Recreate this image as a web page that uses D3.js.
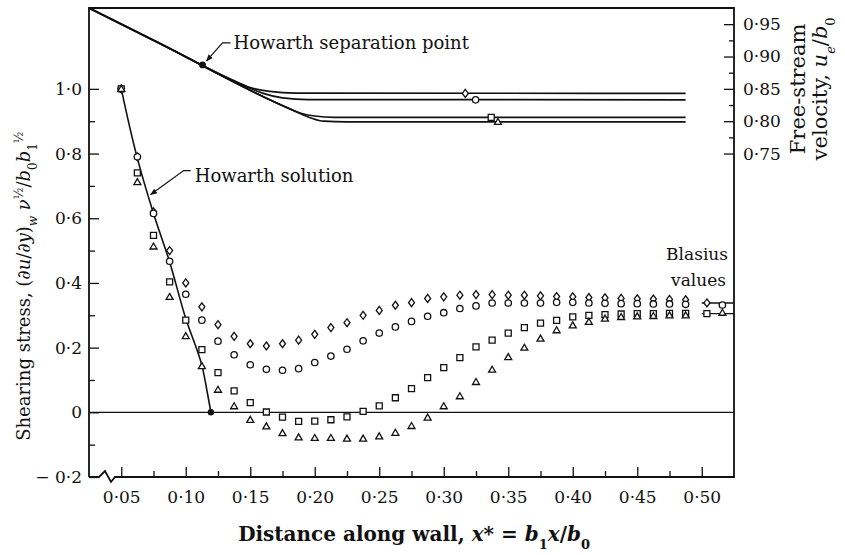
<!DOCTYPE html>
<html>
<head>
<meta charset="utf-8">
<script src="https://cdn.jsdelivr.net/npm/d3@7"></script>
<style>
body { margin: 0; background: #fff; }
svg text { font-family: "DejaVu Serif", serif; fill: #111; }
.tick line { stroke: #111; stroke-width: 1.3; }
.tick text { font-size: 17px; }
</style>
</head>
<body>
<div class="chart"></div>
<script>

// x* stations of the measured points
var stations = [0.05, 0.0625, 0.075, 0.0875, 0.1, 0.1125, 0.125, 0.1375, 0.15, 0.1625,
  0.175, 0.1875, 0.2, 0.2125, 0.225, 0.2375, 0.25, 0.2625, 0.275, 0.2875,
  0.3, 0.3125, 0.325, 0.3375, 0.35, 0.3625, 0.375, 0.3875, 0.4, 0.4125,
  0.425, 0.4375, 0.45, 0.4625, 0.475, 0.4875];

// shearing stress for the four cases
var diamondShear = [1.0, 0.79, 0.62, 0.50, 0.40, 0.326, 0.271, 0.235, 0.212, 0.205,
  0.212, 0.223, 0.241, 0.262, 0.277, 0.300, 0.315, 0.331, 0.339, 0.352,
  0.357, 0.362, 0.364, 0.364, 0.362, 0.362, 0.360, 0.358, 0.357, 0.355,
  0.354, 0.352, 0.351, 0.350, 0.349, 0.348];
var circleShear = [1.0, 0.79, 0.615, 0.467, 0.365, 0.285, 0.22, 0.178, 0.147, 0.133,
  0.13, 0.135, 0.154, 0.174, 0.195, 0.221, 0.245, 0.264, 0.281, 0.297,
  0.308, 0.321, 0.329, 0.338, 0.338, 0.338, 0.338, 0.340, 0.340, 0.338,
  0.337, 0.336, 0.336, 0.335, 0.335, 0.334];
var squareShear = [1.0, 0.74, 0.547, 0.403, 0.285, 0.194, 0.123, 0.066, 0.03, 0.001,
  -0.015, -0.028, -0.027, -0.023, -0.014, 0.003, 0.02, 0.045, 0.073, 0.107,
  0.138, 0.169, 0.202, 0.223, 0.245, 0.262, 0.276, 0.284, 0.295, 0.300,
  0.302, 0.304, 0.305, 0.305, 0.306, 0.306];
var triangleShear = [1.0, 0.712, 0.513, 0.357, 0.236, 0.143, 0.07, 0.019, -0.023, -0.043,
  -0.064, -0.077, -0.079, -0.079, -0.081, -0.081, -0.074, -0.063, -0.042, -0.016,
  0.019, 0.05, 0.094, 0.132, 0.171, 0.2, 0.228, 0.254, 0.269, 0.28,
  0.29, 0.295, 0.297, 0.298, 0.30, 0.30];

// Howarth solution
var howarthX = [0.05, 0.0625, 0.075, 0.0875, 0.1, 0.1125, 0.117, 0.1195];
var howarthShear = [1.0, 0.785, 0.615, 0.465, 0.29, 0.145, 0.055, 0.0];

// free-stream velocity u_e/b0 (right axis)
var diamondVelocity = [[0.025, 0.975], [0.08, 0.92], [0.135, 0.865], [0.15, 0.852], [0.165, 0.846], [0.185, 0.8435], [0.4875, 0.843]];
var circleVelocity = [[0.025, 0.975], [0.08, 0.92], [0.145, 0.855], [0.16, 0.843], [0.175, 0.836], [0.195, 0.8335], [0.4875, 0.833]];
var squareVelocity = [[0.025, 0.975], [0.08, 0.92], [0.18, 0.82], [0.19, 0.812], [0.2, 0.808], [0.215, 0.806], [0.4875, 0.806]];
var triangleVelocity = [[0.025, 0.975], [0.08, 0.92], [0.185, 0.815], [0.197, 0.805], [0.207, 0.80], [0.225, 0.799], [0.4875, 0.799]];
var velocityMarkX = [0.3167, 0.3247, 0.3368, 0.342];
var separationPoint = [0.113, 0.887];

// Blasius values
var blasiusX = [0.5, 0.525];
var blasiusUpper = 0.338;
var blasiusLower = 0.305;
var blasiusMarkX = [0.504, 0.516];

// ticks
var xTicks = [0.05, 0.10, 0.15, 0.20, 0.25, 0.30, 0.35, 0.40, 0.45, 0.50];
var xMinorTicks = [0.075, 0.125, 0.175, 0.225, 0.275, 0.325, 0.375, 0.425, 0.475];
var yTicks = [-0.2, 0, 0.2, 0.4, 0.6, 0.8, 1.0];
var yMinorTicks = [-0.1, 0.1, 0.3, 0.5, 0.7, 0.9];
var uTicks = [0.75, 0.80, 0.85, 0.90, 0.95];
var uMinorTicks = [0.775, 0.825, 0.875, 0.925];

function chart(){
var width = 845;
var height = 555;
var margin = {top: 8, right: 111, bottom: 78, left: 89};
var w = width - margin.left - margin.right;
var h = height - margin.top - margin.bottom;

var svg = d3.select(".chart").append("svg")
    .attr("width", width)
    .attr("height", height);

svg.append("defs").append("marker")
    .attr("id", "arrow")
    .attr("viewBox", "0 0 10 10")
    .attr("refX", 9).attr("refY", 5)
    .attr("markerWidth", 7).attr("markerHeight", 7)
    .attr("markerUnits", "userSpaceOnUse")
    .attr("orient", "auto")
  .append("path")
    .attr("d", "M0,1L10,5L0,9Z")
    .attr("fill", "#111");

var g = svg.append("g")
    .attr("transform", "translate(" + margin.left + "," + margin.top + ")");

var x = d3.scaleLinear().domain([0.025, 0.525]).range([0, w]);
var y = d3.scaleLinear().domain([-0.2, 1.25]).range([h, 0]);
var yR = d3.scaleLinear().domain([0.25, 0.975]).range([h, 0]);

var fmtY = function(d) {
  if (d === 0) return "0";
  return d3.format(".1f")(d).replace(".", "·").replace("−", "− ");
};
var fmtX = function(d) { return d3.format(".2f")(d).replace(".", "·"); };
var fmtU = function(d) { return d3.format(".2f")(d).replace(".", "·"); };

// axes (ticks point inward)
g.append("g")
    .call(d3.axisLeft(y).tickValues(yTicks).tickSize(-10).tickPadding(7).tickFormat(fmtY))
    .call(function(a) { a.select(".domain").remove(); });
g.append("g")
    .call(d3.axisLeft(y).tickValues(yMinorTicks).tickSize(-6).tickFormat(""))
    .call(function(a) { a.select(".domain").remove(); });

g.append("g")
    .attr("transform", "translate(0," + h + ")")
    .call(d3.axisBottom(x).tickValues(xTicks).tickSize(-10).tickPadding(14).tickFormat(fmtX))
    .call(function(a) { a.select(".domain").remove(); });
g.append("g")
    .attr("transform", "translate(0," + h + ")")
    .call(d3.axisBottom(x).tickValues(xMinorTicks).tickSize(-6).tickFormat(""))
    .call(function(a) { a.select(".domain").remove(); });

g.append("g")
    .attr("transform", "translate(" + w + ",0)")
    .call(d3.axisRight(yR).tickValues(uTicks).tickSize(-10).tickPadding(9).tickFormat(fmtU))
    .call(function(a) { a.select(".domain").remove(); });
g.append("g")
    .attr("transform", "translate(" + w + ",0)")
    .call(d3.axisRight(yR).tickValues(uMinorTicks).tickSize(-5).tickFormat(""))
    .call(function(a) { a.select(".domain").remove(); });

g.selectAll(".tick text").attr("fill", "#111");

// frame with broken axis mark at lower left
g.append("path")
    .attr("d", "M0," + h + "V0H" + w + "V" + h + "H26L22," + (h + 5) + "L16," + (h - 6) + "L10," + h + "H0")
    .attr("fill", "none")
    .attr("stroke", "#111")
    .attr("stroke-width", 1.8);

// zero line
g.append("line")
    .attr("x1", 0).attr("x2", w)
    .attr("y1", y(0)).attr("y2", y(0))
    .attr("stroke", "#111").attr("stroke-width", 1.3);

// free-stream velocity curves
var vline = d3.line()
    .x(function(d) { return x(d[0]); })
    .y(function(d) { return yR(d[1]); })
    .curve(d3.curveMonotoneX);

var velocities = [diamondVelocity, circleVelocity, squareVelocity, triangleVelocity];
g.selectAll(".vel")
    .data(velocities)
  .enter().append("path")
    .attr("class", "vel")
    .attr("d", vline)
    .attr("fill", "none")
    .attr("stroke", "#111")
    .attr("stroke-width", 1.7);

// Howarth solution
var howarth = howarthX.map(function(d, i) { return [d, howarthShear[i]]; });
g.append("path")
    .datum(howarth)
    .attr("d", d3.line()
        .x(function(d) { return x(d[0]); })
        .y(function(d) { return y(d[1]); })
        .curve(d3.curveMonotoneY))
    .attr("fill", "none")
    .attr("stroke", "#111")
    .attr("stroke-width", 1.6);

g.append("circle")
    .attr("cx", x(howarthX[howarthX.length - 1]))
    .attr("cy", y(0))
    .attr("r", 3.2)
    .attr("fill", "#111");

g.append("circle")
    .attr("cx", x(separationPoint[0]))
    .attr("cy", yR(separationPoint[1]))
    .attr("r", 3.4)
    .attr("fill", "#111");

// Blasius values
[blasiusUpper, blasiusLower].forEach(function(v) {
  g.append("line")
      .attr("x1", x(blasiusX[0])).attr("x2", x(blasiusX[1]))
      .attr("y1", y(v)).attr("y2", y(v))
      .attr("stroke", "#111").attr("stroke-width", 1.3);
});

// marker shapes
var shapes = {
  diamond: "M0,-4L3,0L0,4L-3,0Z",
  circle: d3.symbol(d3.symbolCircle, Math.PI * 3.2 * 3.2)(),
  square: "M-3,-3H3V3H-3Z",
  triangle: "M0,-3.4L3.5,2.6L-3.5,2.6Z"
};

var series = [
  {shape: "diamond", values: diamondShear},
  {shape: "circle", values: circleShear},
  {shape: "square", values: squareShear},
  {shape: "triangle", values: triangleShear}
];

function mark(px, py, shape) {
  g.append("path")
      .attr("d", shapes[shape])
      .attr("transform", "translate(" + px + "," + py + ")")
      .attr("fill", "#fff")
      .attr("stroke", "#111")
      .attr("stroke-width", 1.3);
}

series.forEach(function(s) {
  g.selectAll(".m-" + s.shape)
      .data(stations)
    .enter().append("path")
      .attr("class", "m-" + s.shape)
      .attr("d", shapes[s.shape])
      .attr("transform", function(d, i) { return "translate(" + x(d) + "," + y(s.values[i]) + ")"; })
      .attr("fill", "#fff")
      .attr("stroke", "#111")
      .attr("stroke-width", 1.3);
});

// markers on velocity curves
series.forEach(function(s, i) {
  var curve = velocities[i];
  mark(x(velocityMarkX[i]), yR(curve[curve.length - 1][1]), s.shape);
});

// markers on Blasius lines
mark(x(blasiusMarkX[0]), y(blasiusUpper), "diamond");
mark(x(blasiusMarkX[1]), y(blasiusUpper) + 2, "circle");
mark(x(blasiusMarkX[0]), y(blasiusLower), "square");
mark(x(blasiusMarkX[1]), y(blasiusLower) - 1, "triangle");

// annotations
var sx = x(separationPoint[0]), sy = yR(separationPoint[1]);
g.append("path")
    .attr("d", "M" + (sx + 28) + "," + (sy - 22) + "H" + (sx + 20) + "L" + (sx + 4) + "," + (sy - 4))
    .attr("fill", "none").attr("stroke", "#111").attr("stroke-width", 1.2)
    .attr("marker-end", "url(#arrow)");
g.append("text")
    .attr("x", sx + 31).attr("y", sy - 16)
    .style("font-size", "18px")
    .text("Howarth separation point");

var hx = x(0.0705), hy = y(0.67);
g.append("path")
    .attr("d", "M" + (hx + 43) + "," + (hy - 25) + "H" + (hx + 36) + "L" + (hx + 3) + "," + (hy - 1))
    .attr("fill", "none").attr("stroke", "#111").attr("stroke-width", 1.2)
    .attr("marker-end", "url(#arrow)");
g.append("text")
    .attr("x", hx + 47).attr("y", hy - 14)
    .style("font-size", "18px")
    .text("Howarth solution");

g.append("text")
    .attr("x", w - 6).attr("y", y(0.47))
    .attr("text-anchor", "end")
    .style("font-size", "17px")
    .text("Blasius");
g.append("text")
    .attr("x", w - 8).attr("y", y(0.39))
    .attr("text-anchor", "end")
    .style("font-size", "17px")
    .text("values");

// axis titles
var xt = svg.append("text")
    .attr("x", margin.left + x(0.277))
    .attr("y", 541)
    .attr("text-anchor", "middle")
    .style("font-size", "20px")
    .style("font-weight", "bold");
xt.append("tspan").text("Distance along wall, ");
xt.append("tspan").style("font-style", "italic").text("x");
xt.append("tspan").text("* = ");
xt.append("tspan").style("font-style", "italic").text("b");
xt.append("tspan").attr("baseline-shift", "sub").style("font-size", "13px").text("1");
xt.append("tspan").style("font-style", "italic").text("x");
xt.append("tspan").text("/");
xt.append("tspan").style("font-style", "italic").text("b");
xt.append("tspan").attr("baseline-shift", "sub").style("font-size", "13px").text("0");

var yt = svg.append("text")
    .attr("transform", "translate(30," + (margin.top + y(0.39)) + ") rotate(-90)")
    .attr("text-anchor", "middle")
    .style("font-size", "18px");
yt.append("tspan").text("Shearing stress, (∂");
yt.append("tspan").style("font-style", "italic").text("u");
yt.append("tspan").text("/∂");
yt.append("tspan").style("font-style", "italic").text("y");
yt.append("tspan").text(")");
yt.append("tspan").attr("baseline-shift", "sub").style("font-size", "12px").style("font-style", "italic").text("w");
yt.append("tspan").style("font-style", "italic").text(" ν");
yt.append("tspan").attr("baseline-shift", "super").style("font-size", "12px").text("½");
yt.append("tspan").text("/");
yt.append("tspan").style("font-style", "italic").text("b");
yt.append("tspan").attr("baseline-shift", "sub").style("font-size", "12px").text("0");
yt.append("tspan").style("font-style", "italic").text("b");
yt.append("tspan").attr("baseline-shift", "sub").style("font-size", "12px").text("1");
yt.append("tspan").attr("baseline-shift", "super").style("font-size", "12px").text("½");

var rt = svg.append("g")
    .attr("transform", "translate(0," + (margin.top + yR(0.85)) + ") rotate(-90)");
rt.append("text")
    .attr("x", 0).attr("y", 805)
    .attr("text-anchor", "middle")
    .style("font-size", "21px")
    .text("Free-stream");
var rt2 = rt.append("text")
    .attr("x", 0).attr("y", 827)
    .attr("text-anchor", "middle")
    .style("font-size", "21px");
rt2.append("tspan").text("velocity, ");
rt2.append("tspan").style("font-style", "italic").text("u");
rt2.append("tspan").attr("baseline-shift", "sub").style("font-size", "13px").style("font-style", "italic").text("e");
rt2.append("tspan").text("/");
rt2.append("tspan").style("font-style", "italic").text("b");
rt2.append("tspan").attr("baseline-shift", "sub").style("font-size", "13px").text("0");
};
chart();
</script>
</body>
</html>
